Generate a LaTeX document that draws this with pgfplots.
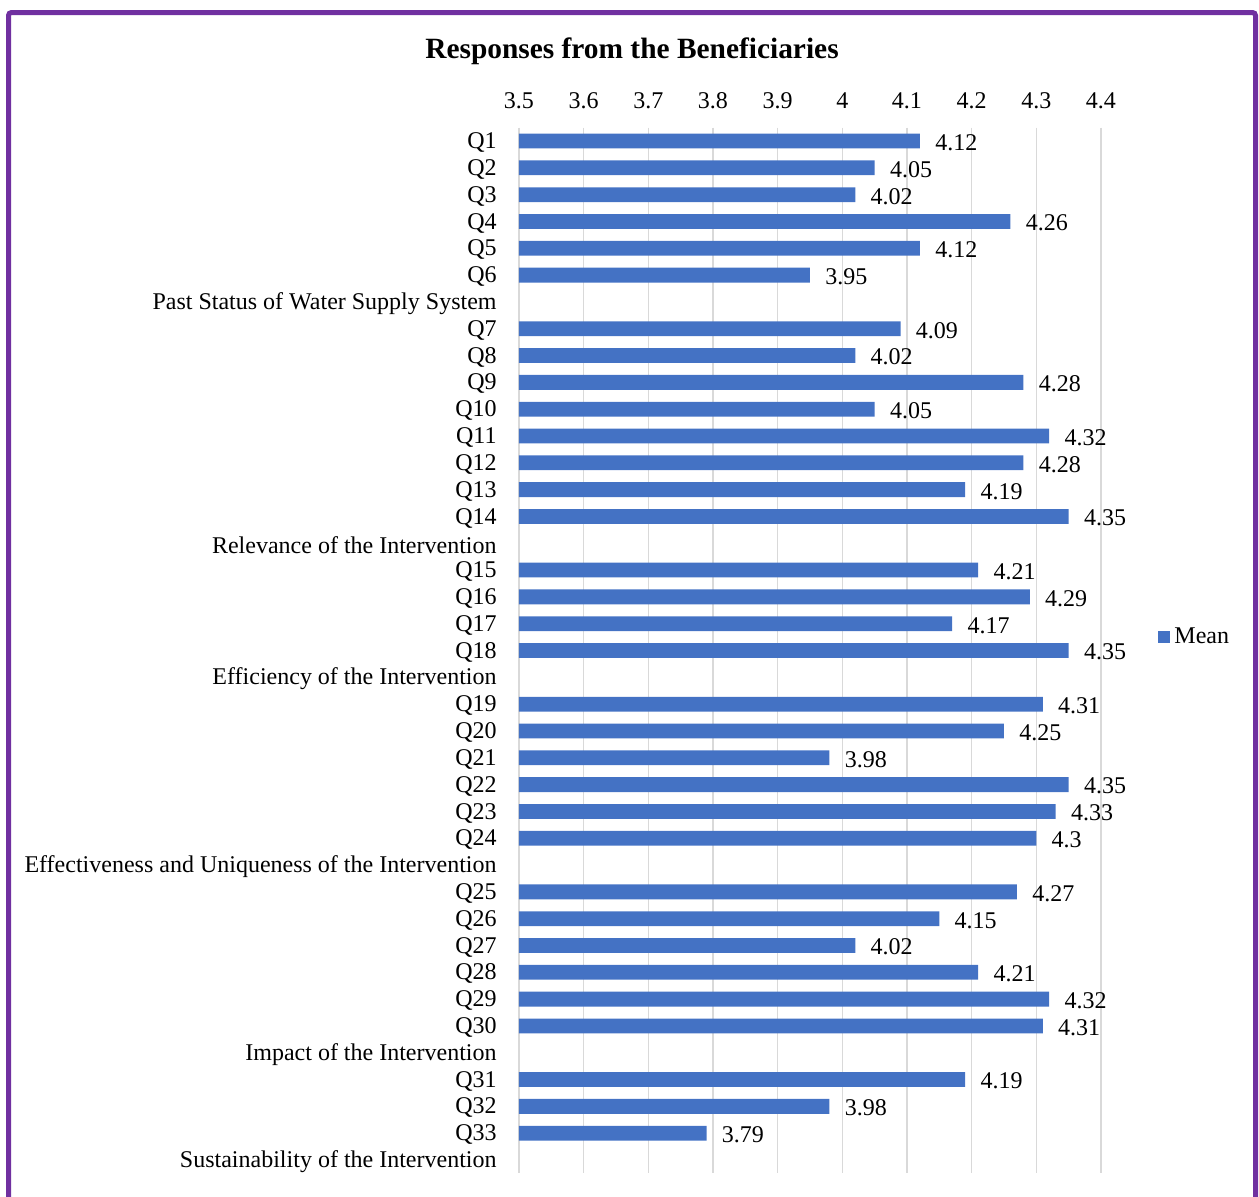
\documentclass[border=0pt]{standalone}
\usepackage{fontspec}
\setmainfont{Liberation Serif}
\usepackage{pgfplots}
\pgfplotsset{compat=1.18}
\definecolor{barblue}{HTML}{4472C4}
\definecolor{framecol}{HTML}{7030A0}
\definecolor{gridgray}{HTML}{D9D9D9}
\pgfplotsset{/pgf/number format/assume math mode=true}
\begin{document}
\begin{tikzpicture}
\path[use as bounding box] (0pt,0pt) rectangle (629.5pt,-598pt);
\begin{scope}
\clip (0pt,0pt) rectangle (629.5pt,-598pt);
\draw[framecol, line width=2.5pt, rounded corners=1.5pt] (4.25pt,-6.25pt) rectangle (627.75pt,-615pt);
\end{scope}
\node[font=\bfseries\fontsize{14.7}{17}\selectfont] at (316pt,-25.5pt) {Responses from the Beneficiaries};
\begin{axis}[
  at={(259.5pt,-63.8pt)}, anchor=north west,
  scale only axis, width=291pt, height=522.9pt,
  xbar, bar width=7.4pt,
  xmin=3.5, xmax=4.4, ymin=-0.5, ymax=38.5, y dir=reverse,
  axis x line*=top, axis y line*=left, axis line style={draw=none},
  major tick length=0pt,
  xtick={3.5,3.6,3.7,3.8,3.9,4,4.1,4.2,4.3,4.4},
  xticklabels={3.5,3.6,3.7,3.8,3.9,4,4.1,4.2,4.3,4.4},
  xmajorgrids, grid style={gridgray, line width=0.75pt},
  ytick={0,...,38},
  yticklabels={Q1,Q2,Q3,Q4,Q5,Q6,Past Status of Water Supply System,Q7,Q8,Q9,Q10,Q11,Q12,Q13,Q14,Relevance of the Intervention,Q15,Q16,Q17,Q18,Efficiency of the Intervention,Q19,Q20,Q21,Q22,Q23,Q24,Effectiveness and Uniqueness of the Intervention,Q25,Q26,Q27,Q28,Q29,Q30,Impact of the Intervention,Q31,Q32,Q33,Sustainability of the Intervention},
  tick label style={font=\fontsize{12}{14}\selectfont},
  yticklabel style={anchor=east, inner sep=0pt, xshift=-11pt, yshift=-0.8pt},
  xticklabel style={anchor=south, inner sep=0pt, yshift=9.2pt},
  point meta=x,
  nodes near coords={\pgfmathprintnumber[fixed,precision=2]{\pgfplotspointmeta}},
  every node near coord/.append style={font=\fontsize{12}{14}\selectfont, anchor=west, inner sep=0pt, xshift=7.5pt, yshift=-0.8pt, black},
  legend style={draw=none, at={(1.098,0.5129)}, anchor=west, inner sep=0pt, font=\fontsize{12}{14}\selectfont},
  legend image code/.code={\fill[barblue] (0pt,-3.2pt) rectangle (6pt,3.2pt);},
]
\addplot[fill=barblue, draw=none] coordinates {
(4.12,0) (4.05,1) (4.02,2) (4.26,3) (4.12,4) (3.95,5)
(4.09,7) (4.02,8) (4.28,9) (4.05,10) (4.32,11) (4.28,12) (4.19,13) (4.35,14)
(4.21,16) (4.29,17) (4.17,18) (4.35,19)
(4.31,21) (4.25,22) (3.98,23) (4.35,24) (4.33,25) (4.3,26)
(4.27,28) (4.15,29) (4.02,30) (4.21,31) (4.32,32) (4.31,33)
(4.19,35) (3.98,36) (3.79,37)
};
\addlegendentry{Mean}
\end{axis}
\end{tikzpicture}
\end{document}
